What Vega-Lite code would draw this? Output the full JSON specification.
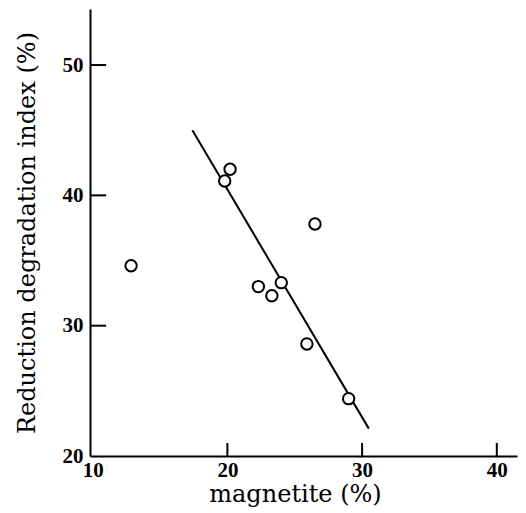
{
  "$schema": "https://vega.github.io/schema/vega-lite/v6.json",
  "width": 427,
  "height": 447,
  "autosize": {"type": "none"},
  "padding": {"left": 90, "top": 9, "right": 9, "bottom": 57},
  "background": "white",
  "config": {"view": {"stroke": null}},
  "datasets": {
    "pts": [
      {"magnetite": 12.85, "rdi": 34.6},
      {"magnetite": 19.8, "rdi": 41.1},
      {"magnetite": 20.2, "rdi": 42.0},
      {"magnetite": 22.3, "rdi": 33.0},
      {"magnetite": 23.3, "rdi": 32.3},
      {"magnetite": 24.0, "rdi": 33.3},
      {"magnetite": 25.9, "rdi": 28.6},
      {"magnetite": 26.5, "rdi": 37.8},
      {"magnetite": 29.0, "rdi": 24.4}
    ],
    "fit": [
      {"magnetite": 17.4, "rdi": 45.0},
      {"magnetite": 30.5, "rdi": 22.1}
    ],
    "xticks": [{"v": 20}, {"v": 30}, {"v": 40}],
    "yticks": [{"v": 30}, {"v": 40}, {"v": 50}]
  },
  "layer": [
    {
      "data": {"name": "xticks"},
      "mark": {"type": "rule", "color": "black", "strokeWidth": 2},
      "encoding": {
        "x": {"field": "v", "type": "quantitative"},
        "y": {"datum": 20},
        "y2": {"datum": 21}
      }
    },
    {
      "data": {"name": "yticks"},
      "mark": {"type": "rule", "color": "black", "strokeWidth": 2},
      "encoding": {
        "y": {"field": "v", "type": "quantitative"},
        "x": {"datum": 9.8},
        "x2": {"datum": 11.0}
      }
    },
    {
      "data": {"name": "fit"},
      "mark": {"type": "line", "color": "black", "strokeWidth": 2},
      "encoding": {
        "x": {"field": "magnetite", "type": "quantitative"},
        "y": {"field": "rdi", "type": "quantitative"}
      }
    },
    {
      "data": {"name": "pts"},
      "mark": {"type": "point", "shape": "circle", "filled": false, "stroke": "black", "fill": "white", "fillOpacity": 1, "strokeWidth": 2, "size": 130, "opacity": 1},
      "encoding": {
        "x": {
          "field": "magnetite", "type": "quantitative",
          "scale": {"domain": [9.8, 41.5], "nice": false, "zero": false},
          "axis": {
            "values": [10, 20, 30, 40],
            "title": "magnetite (%)",
            "titleX": 205,
            "grid": false,
            "ticks": false,
            "domainColor": "black", "domainWidth": 2,
            "labelPadding": 3,
            "labelFont": "Liberation Serif", "labelFontSize": 21, "labelFontWeight": "bold", "labelColor": "black",
            "titleFont": "DejaVu Serif", "titleFontSize": 24, "titleFontWeight": "normal", "titleColor": "black",
            "titlePadding": 2
          }
        },
        "y": {
          "field": "rdi", "type": "quantitative",
          "scale": {"domain": [20, 54.3], "nice": false, "zero": false},
          "axis": {
            "values": [20, 30, 40, 50],
            "title": "Reduction degradation index (%)",
            "grid": false,
            "ticks": false,
            "domainColor": "black", "domainWidth": 2,
            "labelPadding": 7,
            "labelFont": "Liberation Serif", "labelFontSize": 21, "labelFontWeight": "bold", "labelColor": "black",
            "titleFont": "DejaVu Serif", "titleFontSize": 24, "titleFontWeight": "normal", "titleColor": "black",
            "titlePadding": 23
          }
        }
      }
    }
  ]
}
